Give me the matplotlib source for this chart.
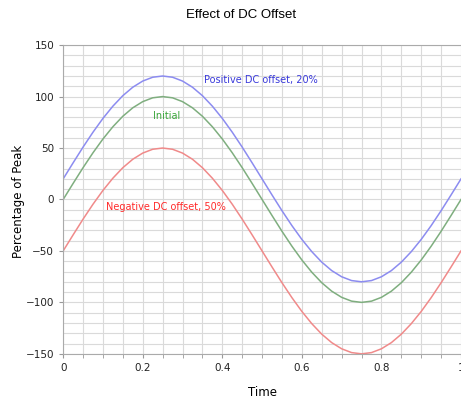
import matplotlib
matplotlib.use("Agg")
import matplotlib.pyplot as plt
from matplotlib.ticker import MultipleLocator

# time axis, step 0.025
time = [i / 40 for i in range(41)]

initial = [0, 15.6, 30.9, 45.4, 58.8, 70.7, 80.9, 89.1, 95.1, 98.8,
           100, 98.8, 95.1, 89.1, 80.9, 70.7, 58.8, 45.4, 30.9, 15.6,
           0, -15.6, -30.9, -45.4, -58.8, -70.7, -80.9, -89.1, -95.1, -98.8,
           -100, -98.8, -95.1, -89.1, -80.9, -70.7, -58.8, -45.4, -30.9, -15.6, 0]
positive = [20, 35.6, 50.9, 65.4, 78.8, 90.7, 100.9, 109.1, 115.1, 118.8,
            120, 118.8, 115.1, 109.1, 100.9, 90.7, 78.8, 65.4, 50.9, 35.6,
            20, 4.4, -10.9, -25.4, -38.8, -50.7, -60.9, -69.1, -75.1, -78.8,
            -80, -78.8, -75.1, -69.1, -60.9, -50.7, -38.8, -25.4, -10.9, 4.4, 20]
negative = [-50, -34.4, -19.1, -4.6, 8.8, 20.7, 30.9, 39.1, 45.1, 48.8,
            50, 48.8, 45.1, 39.1, 30.9, 20.7, 8.8, -4.6, -19.1, -34.4,
            -50, -65.6, -80.9, -95.4, -108.8, -120.7, -130.9, -139.1, -145.1, -148.8,
            -150, -148.8, -145.1, -139.1, -130.9, -120.7, -108.8, -95.4, -80.9, -65.6, -50]

fig = plt.figure(figsize=(4.61, 4.03), dpi=100)
ax = fig.add_axes([0.137, 0.122, 0.863, 0.766])

ax.plot(time, positive, color="#8c8cf0", lw=1.1)
ax.plot(time, initial, color="#7fae7f", lw=1.1)
ax.plot(time, negative, color="#f08a8a", lw=1.1)

ax.set_xlim(0, 1)
ax.set_ylim(-150, 150)
ax.xaxis.set_major_locator(MultipleLocator(0.2))
ax.xaxis.set_minor_locator(MultipleLocator(0.05))
ax.yaxis.set_major_locator(MultipleLocator(50))
ax.yaxis.set_minor_locator(MultipleLocator(10))
ax.set_xticks([0, 0.2, 0.4, 0.6, 0.8, 1.0])
ax.set_xticklabels(["0", "0.2", "0.4", "0.6", "0.8", "1"])

ax.grid(which="both", color="#dadada", lw=0.8)
ax.set_axisbelow(True)

for s in ["left", "bottom", "top"]:
    ax.spines[s].set_color("#aaaaaa")
ax.spines["right"].set_visible(False)
ax.tick_params(which="both", colors="#999999", labelcolor="#222222", labelsize=7.5, length=3)
ax.tick_params(axis="y", which="minor", length=0)

ax.text(0.497, 116, "Positive DC offset, 20%", color="#3a3adb", fontsize=7, ha="center", va="center")
ax.text(0.259, 81, "Initial", color="#3aa63a", fontsize=7, ha="center", va="center")
ax.text(0.259, -7, "Negative DC offset, 50%", color="#ff2a2a", fontsize=7, ha="center", va="center")

fig.text(0.523, 0.962, "Effect of DC Offset", fontsize=9.5, ha="center", va="center", family="Liberation Sans")
fig.text(0.57, 0.025, "Time", fontsize=8.5, ha="center", va="center")
fig.text(0.04, 0.5, "Percentage of Peak", fontsize=8.5, ha="center", va="center", rotation=90)

fig.savefig("out.png", dpi=100)
